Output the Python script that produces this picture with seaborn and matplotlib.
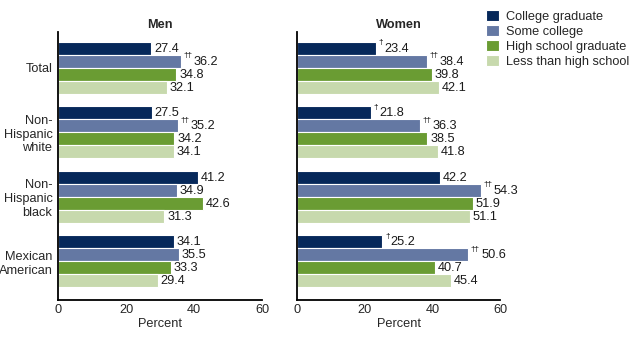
import matplotlib
matplotlib.use("Agg")
import matplotlib.pyplot as plt
import seaborn as sns
import pandas as pd

sns.set_theme(style="white")
plt.rcParams['font.family'] = ['Liberation Sans', 'DejaVu Sans']

groups = ["Total", "Non-\nHispanic\nwhite", "Non-\nHispanic\nblack", "Mexican\nAmerican"]
levels = ["College graduate", "Some college", "High school graduate", "Less than high school"]
colors = ["#06285a", "#6478a3", "#6a9c33", "#c7d9ad"]

men_values = {
    "College graduate": [27.4, 27.5, 41.2, 34.1],
    "Some college": [36.2, 35.2, 34.9, 35.5],
    "High school graduate": [34.8, 34.2, 42.6, 33.3],
    "Less than high school": [32.1, 34.1, 31.3, 29.4],
}
men_marks = {
    "College graduate": ["", "", "", ""],
    "Some college": ["††", "††", "", ""],
    "High school graduate": ["", "", "", ""],
    "Less than high school": ["", "", "", ""],
}
women_values = {
    "College graduate": [23.4, 21.8, 42.2, 25.2],
    "Some college": [38.4, 36.3, 54.3, 50.6],
    "High school graduate": [39.8, 38.5, 51.9, 40.7],
    "Less than high school": [42.1, 41.8, 51.1, 45.4],
}
women_marks = {
    "College graduate": ["†", "†", "", "†"],
    "Some college": ["††", "††", "††", "††"],
    "High school graduate": ["", "", "", ""],
    "Less than high school": ["", "", "", ""],
}
x_ticks = [0, 20, 40, 60]


def make_df(values):
    rows = []
    for lev in levels:
        for g, v in zip(groups, values[lev]):
            rows.append({"group": g, "level": lev, "value": v})
    return pd.DataFrame(rows)


fig = plt.figure(figsize=(6.3, 3.37), dpi=100)
ax_m = fig.add_axes([58 / 630, 1 - 300 / 337, 204 / 630, 268 / 337])
ax_w = fig.add_axes([297 / 630, 1 - 300 / 337, 203 / 630, 268 / 337])

FS = 9.2

for ax, values, marks, title in [(ax_m, men_values, men_marks, "Men"),
                                 (ax_w, women_values, women_marks, "Women")]:
    df = make_df(values)
    sns.barplot(data=df, y="group", x="value", hue="level", order=groups,
                hue_order=levels, palette=colors, orient="h", width=0.8,
                edgecolor="white", linewidth=0.8, ax=ax, legend=(ax is ax_w),
                errorbar=None, saturation=1)
    for lev, cont in zip(levels, ax.containers):
        for bar, v, mk in zip(cont, values[lev], marks[lev]):
            yc = bar.get_y() + bar.get_height() / 2
            xe = bar.get_width()
            off = 2.0
            if mk:
                ax.annotate(mk, (xe, yc), xytext=(2.0, 1.5), textcoords="offset points",
                            fontsize=6, ha="left", va="bottom", color="black")
                off = 2.0 + 3.4 * len(mk) + 0.5
            ax.annotate(f"{v:.1f}", (xe, yc), xytext=(off, -0.3), textcoords="offset points",
                        fontsize=FS, ha="left", va="center", color="#1a1a1a")
    ax.set_xlim(0, 60)
    ax.set_ylim(3.6, -0.555)
    ax.set_xticks(x_ticks)
    ax.set_xticklabels([str(t) for t in x_ticks], fontsize=FS)
    ax.set_xlabel("Percent", fontsize=FS, labelpad=1)
    ax.set_ylabel("")
    ax.set_title(title, fontsize=FS, fontweight="bold", pad=3)
    for s in ["top", "right"]:
        ax.spines[s].set_visible(False)
    for s in ["left", "bottom"]:
        ax.spines[s].set_color("black")
        ax.spines[s].set_linewidth(1.3)
    ax.tick_params(axis="x", direction="in", length=6, width=1.2, color="black", pad=3)
    ax.tick_params(axis="y", length=0, labelsize=FS, pad=4)

ax_w.set_yticklabels([])
handles, labels = ax_w.get_legend_handles_labels()
ax_w.get_legend().remove()
fig.legend(handles, labels, loc="upper left", bbox_to_anchor=(486 / 630, 1 - 10 / 337),
           frameon=False, fontsize=FS, handlelength=1.0, handleheight=1.0,
           handletextpad=0.6, labelspacing=0.15, borderaxespad=0, borderpad=0)

fig.savefig("out.png", dpi=100)
